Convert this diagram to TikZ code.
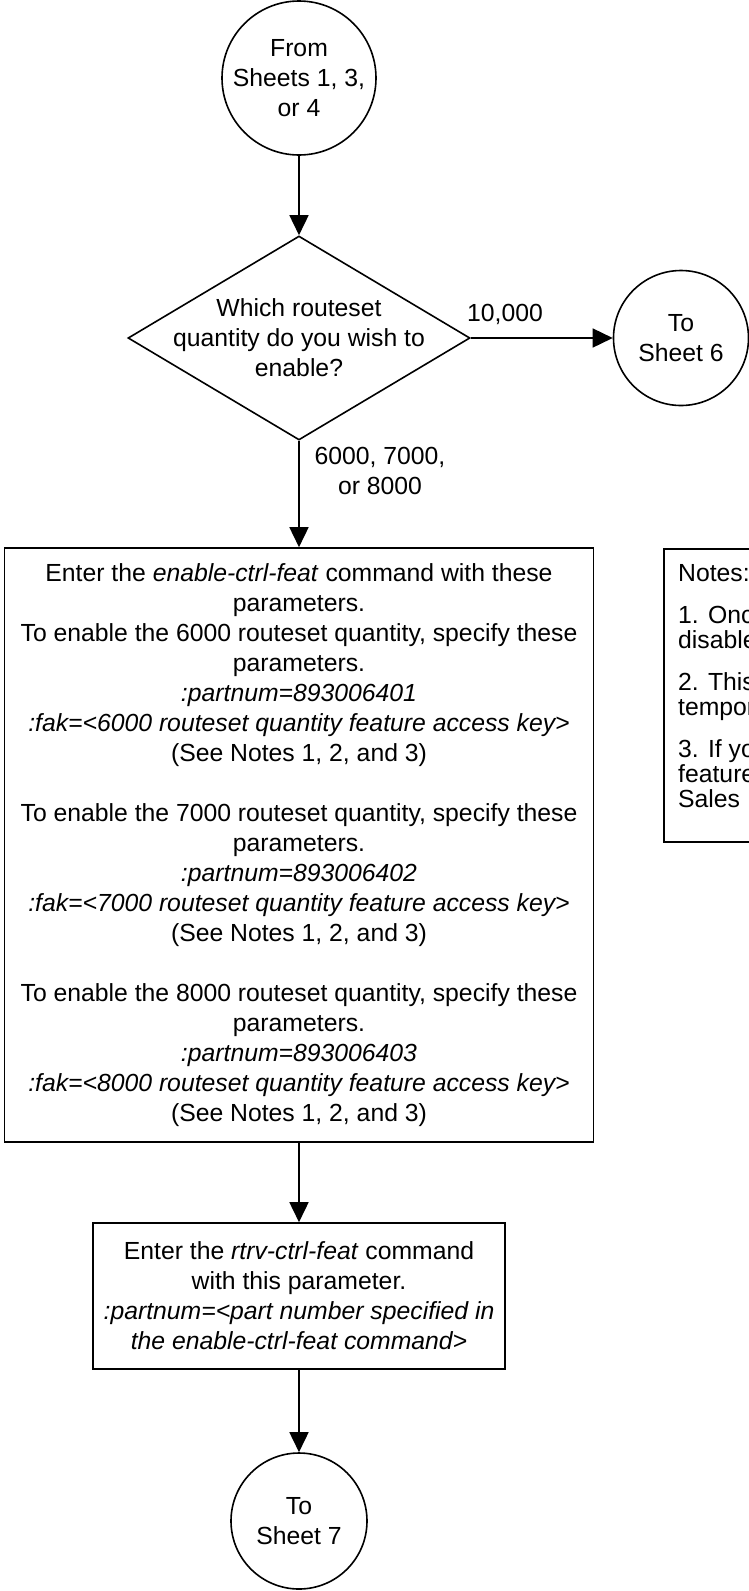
\documentclass[tikz,border=0pt]{standalone}
\usepackage{fontspec}
\setmainfont{Liberation Sans}
\usetikzlibrary{shapes.geometric,arrows.meta}

\begin{document}
\begin{tikzpicture}[x=1pt,y=-1pt,
  every node/.style={font=\fontsize{24.75}{30}\selectfont},
  conn/.style={draw, line width=1.6pt, -{Triangle[length=20pt,width=19pt]}},
  circ/.style={circle, draw, line width=1.6pt, inner sep=0pt, align=center},
  procbox/.style={rectangle, draw, line width=1.6pt, inner sep=0pt, align=center},
  decision/.style={diamond, draw, line width=1.6pt, inner sep=0pt},
  lbl/.style={inner sep=0pt, align=center}
]
\useasboundingbox (0,0) rectangle (749,1591);
\clip (0,0) rectangle (749,1591);

% nodes
\node[circ, minimum size=154pt] (c1) at (299,78) {From\\Sheets 1, 3,\\or 4};
\node[decision, minimum width=342pt, minimum height=204pt] (d) at (299,338) {};
\node[lbl] (dt) at (299,338) {Which routeset\\quantity do you wish to\\enable?};
\node[circ, minimum size=135pt] (c2) at (681,338) {To\\Sheet 6};

\node[lbl, anchor=base] (l1) at (505,321.7) {10,000};
\node[lbl] (l2) at (380,470.5) {6000, 7000,\\or 8000};

\node[procbox, minimum width=589pt, minimum height=594pt] (b1) at (299,845) {%
Enter the \textit{enable-ctrl-feat} command with these\\
parameters.\\
To enable the 6000 routeset quantity, specify these\\
parameters.\\
\textit{:partnum=893006401}\\
\textit{:fak=<6000 routeset quantity feature access key>}\\
(See Notes 1, 2, and 3)\\[30pt]
To enable the 7000 routeset quantity, specify these\\
parameters.\\
\textit{:partnum=893006402}\\
\textit{:fak=<7000 routeset quantity feature access key>}\\
(See Notes 1, 2, and 3)\\[30pt]
To enable the 8000 routeset quantity, specify these\\
parameters.\\
\textit{:partnum=893006403}\\
\textit{:fak=<8000 routeset quantity feature access key>}\\
(See Notes 1, 2, and 3)};

\node[procbox, minimum width=412pt, minimum height=146pt] (b2) at (299,1296) {%
Enter the \textit{rtrv-ctrl-feat} command\\
with this parameter.\\
\textit{:partnum=<part number specified in}\\
\textit{the enable-ctrl-feat command>}};

\node[circ, minimum size=136pt] (c3) at (299,1521) {To\\Sheet 7};

% notes box (cut off by the right edge)
\node[rectangle, draw, line width=1.6pt, minimum width=300pt, minimum height=293pt, anchor=north west] (nb) at (663,548) {};
\node[lbl, anchor=north west, align=left, font=\fontsize{24.75}{25}\selectfont] (nt) at (678,564.3) {%
Notes:\\[17pt]
1. Onc\\
disable\\[17pt]
2. This\\
tempor\\[17pt]
3. If yo\\
feature\\
Sales I};

% connectors
\draw[conn] (c1) -- (d);
\draw[conn] (d) -- (c2);
\draw[conn] (d) -- (b1);
\draw[conn] (b1) -- (b2);
\draw[conn] (b2) -- (c3);
\end{tikzpicture}
\end{document}
